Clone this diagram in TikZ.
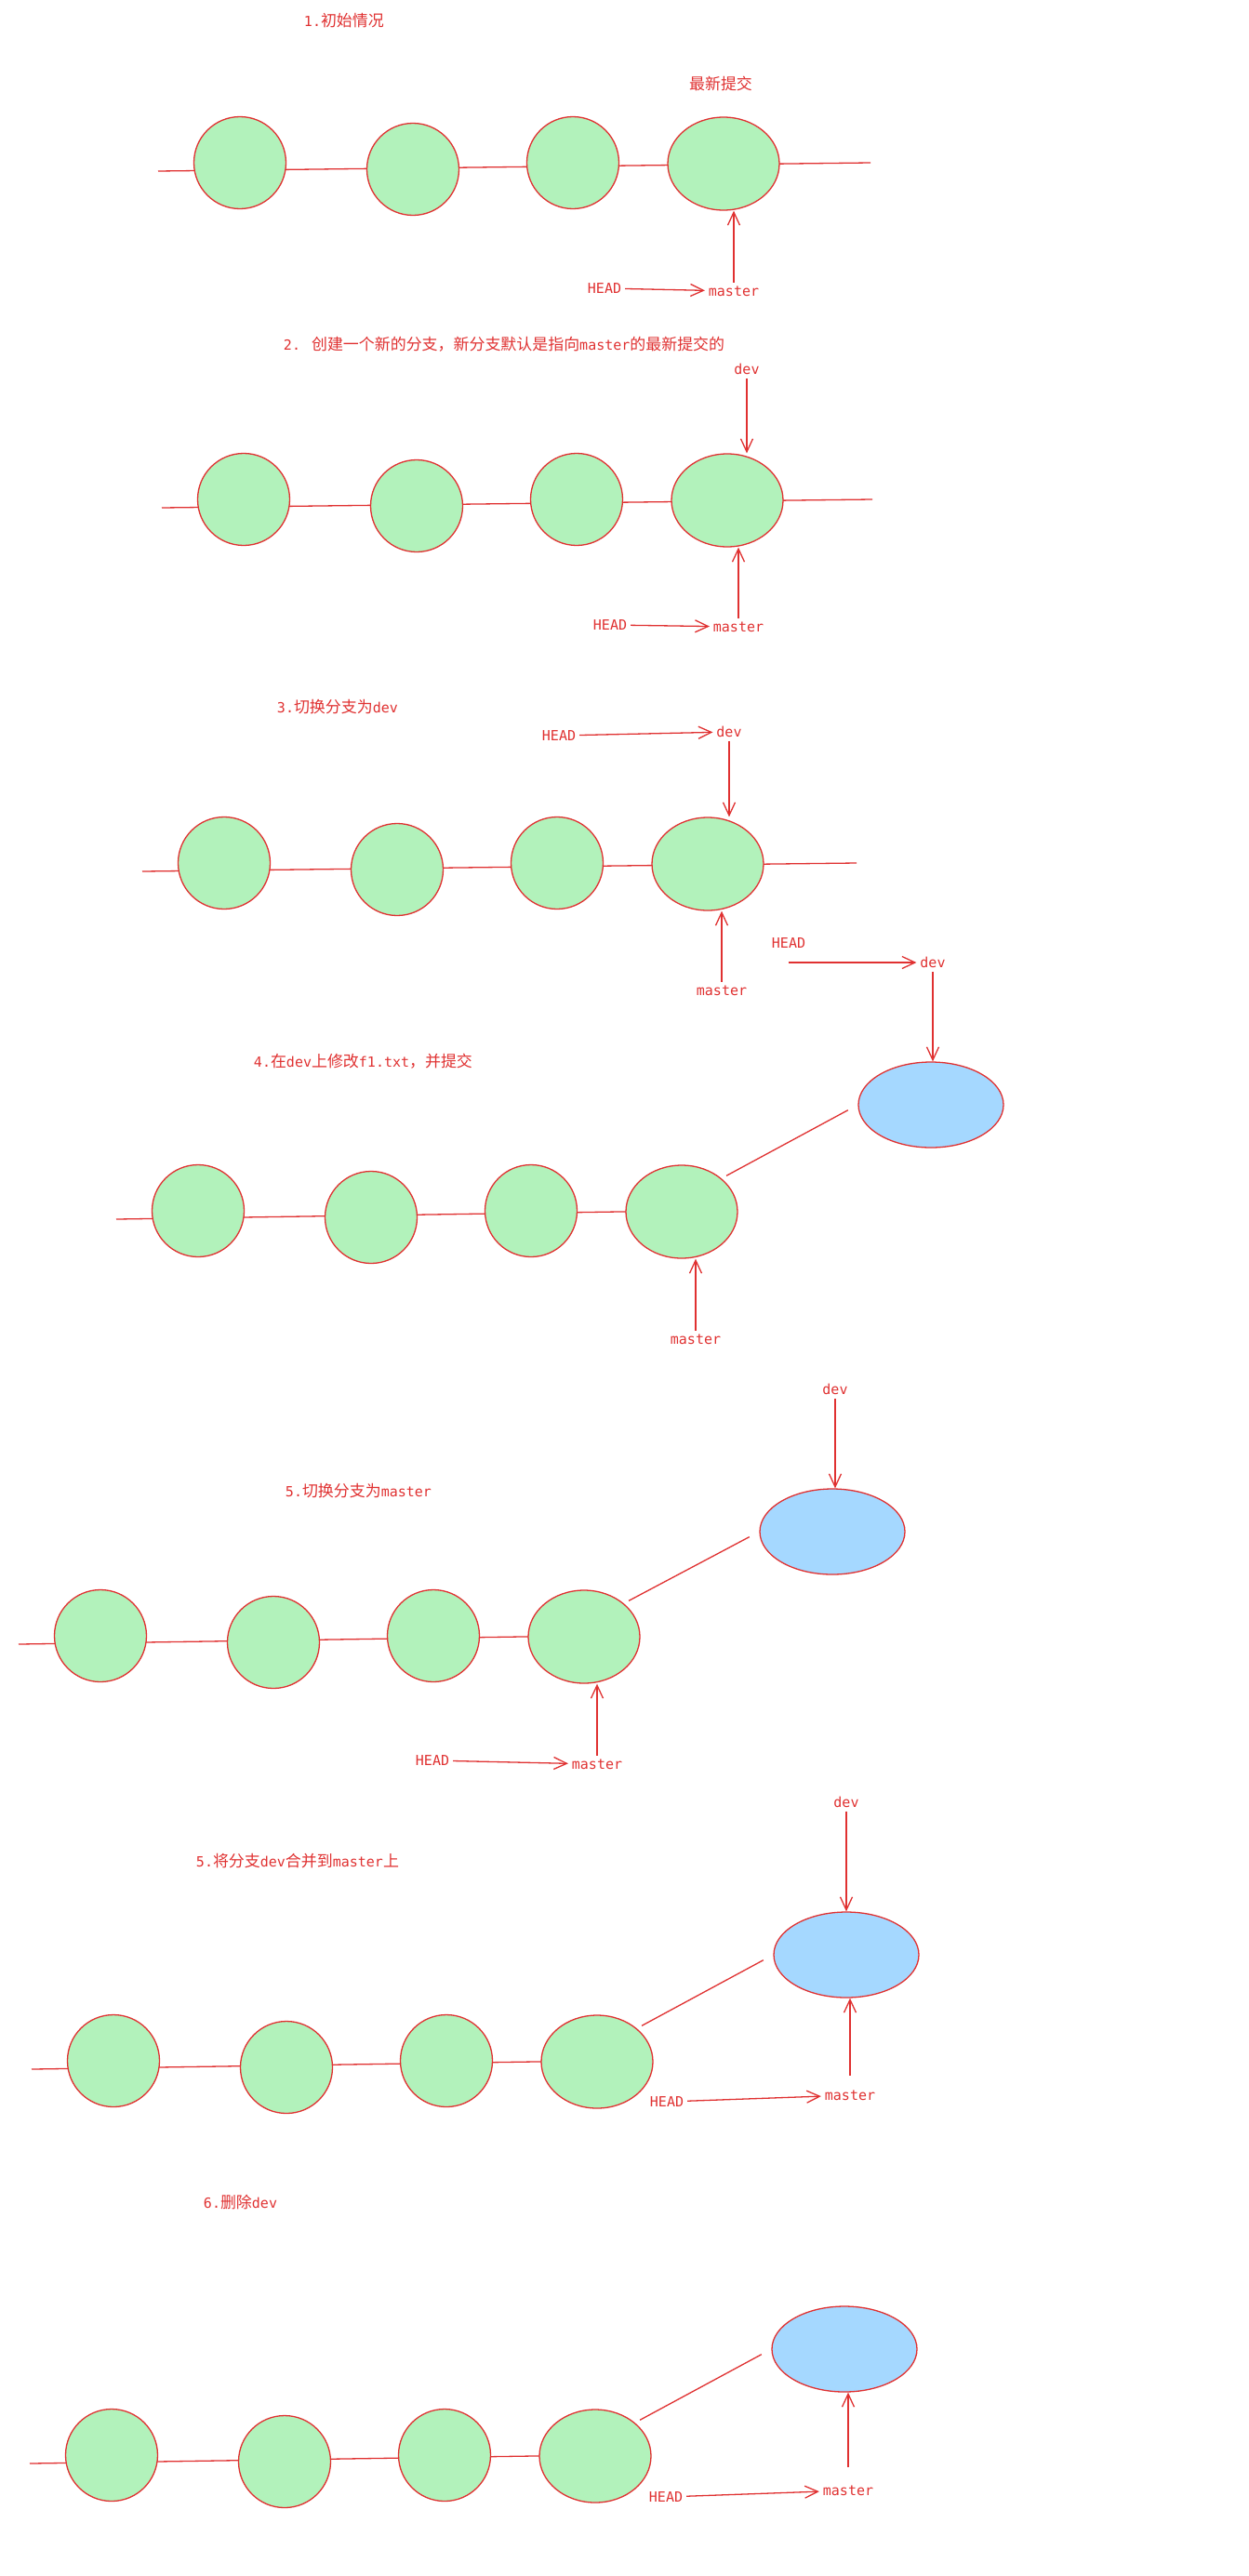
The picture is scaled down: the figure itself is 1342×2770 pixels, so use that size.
\documentclass[tikz,border=0pt]{standalone}
\usepackage{fontspec}
\setmainfont{DejaVu Sans Mono}
\newfontfamily\cjk[Scale=1.13]{Noto Sans CJK SC}
\newcommand{\zhtext}[1]{{\cjk #1}}
\usetikzlibrary{shapes.geometric,arrows.meta}
\definecolor{pen}{HTML}{E03131}
\definecolor{gitgreen}{HTML}{B2F2BB}
\definecolor{gitblue}{HTML}{A5D8FF}

\begin{document}
\begin{tikzpicture}
  [x=1pt, y=-1pt, pen, line width=1.3pt,
   >={Straight Barb[length=14pt,width=13pt]},
   every node/.style={font=\fontsize{15}{18}\selectfont, text=pen},
   commit/.style={circle, draw, fill=gitgreen, minimum size=99pt, inner sep=0pt},
   head commit/.style={ellipse, draw, fill=gitgreen, minimum width=120pt, minimum height=100pt, inner sep=0pt},
   dev commit/.style={ellipse, draw, fill=gitblue, minimum width=156pt, minimum height=92pt, inner sep=0pt},
   title/.style={anchor=west}]
	\useasboundingbox [fill=white] (0,0) rectangle (1342,2770);

	\foreach \r/\x/\y/\e in {1/258/175/678, 2/262/537/676, 3/241/928/680, 4/213/1302/520, 5/108/1759/520, 6/122/2216/520, 7/120/2640/520} {
		\coordinate (s\r) at (\x-88,\y+9);
		\coordinate (t\r) at (\x+\e,\y);
		\draw (s\r) -- (t\r);
		\node [commit, name=c\r1] at (\x,\y) {};
		\node [commit, name=c\r2] at (\x+186,\y+7) {};
		\node [commit, name=c\r3] at (\x+358,\y) {};
		\node [head commit, name=c\r4] at (\x+520,\y+1) {};
	}
	\foreach \r/\x/\y in {4/1001/1188, 5/895/1647, 6/910/2102, 7/908/2526} {
		\node [dev commit, name=b\r] at (\x,\y) {};
		\draw [shorten <=6pt, shorten >=12pt] (c\r4.40) -- (b\r.west);
	}

	\node [title, name=title1] at (323,22) {1.\zhtext{初始情况}};
	\node [name=newest] at (775,90) {\zhtext{最新提交}};
	\node [name=head1] at (650,310) {HEAD};
	\node [name=master1] at (789,313) {master};
	\path [->] (head1) edge (master1)
				(master1) edge (master1 |- c14.south);

	\node [title, name=title2] at (301,370) {2. \zhtext{创建一个新的分支，新分支默认是指向}master\zhtext{的最新提交的}};
	\node [name=dev2] at (803,397) {dev};
	\node [name=head2] at (656,672) {HEAD};
	\node [name=master2] at (794,674) {master};
	\path [->] (dev2) edge (dev2 |- c24.north)
				(head2) edge (master2)
				(master2) edge (master2 |- c24.south);

	\node [title, name=title3] at (294,760) {3.\zhtext{切换分支为}dev};
	\node [name=head3] at (601,791) {HEAD};
	\node [name=dev3] at (784,787) {dev};
	\node [name=master3] at (776,1065) {master};
	\path [->] (head3) edge (dev3)
				(dev3) edge (dev3 |- c34.north)
				(master3) edge (master3 |- c34.south);

	\node [title, name=title4] at (269,1141) {4.\zhtext{在}dev\zhtext{上修改}f1.txt\zhtext{，并提交}};
	\node [name=head4] at (848,1014) {HEAD};
	\node [name=dev4] at (1003,1035) {dev};
	\node [name=master4] at (748,1440) {master};
	\path [->] (head4.south |- dev4) edge (dev4)
				(dev4) edge (dev4 |- b4.north)
				(master4) edge (master4 |- c44.south);

	\node [title, name=title5] at (303,1603) {5.\zhtext{切换分支为}master};
	\node [name=dev5] at (898,1494) {dev};
	\node [name=head5] at (465,1893) {HEAD};
	\node [name=master5] at (642,1897) {master};
	\path [->] (dev5) edge (dev5 |- b5.north)
				(head5) edge (master5)
				(master5) edge (master5 |- c54.south);

	\node [title, name=title6] at (207,2001) {5.\zhtext{将分支}dev\zhtext{合并到}master\zhtext{上}};
	\node [name=dev6] at (910,1938) {dev};
	\node [name=head6] at (717,2260) {HEAD};
	\node [name=master6] at (914,2253) {master};
	\path [->] (dev6) edge (dev6 |- b6.north)
				(head6) edge (master6)
				(master6) edge [shorten <=12pt] (master6 |- b6.south);

	\node [title, name=title7] at (215,2368) {6.\zhtext{删除}dev};
	\node [name=head7] at (716,2685) {HEAD};
	\node [name=master7] at (912,2678) {master};
	\path [->] (head7) edge (master7)
				(master7) edge [shorten <=16pt] (master7 |- b7.south);
\end{tikzpicture}
\end{document}
